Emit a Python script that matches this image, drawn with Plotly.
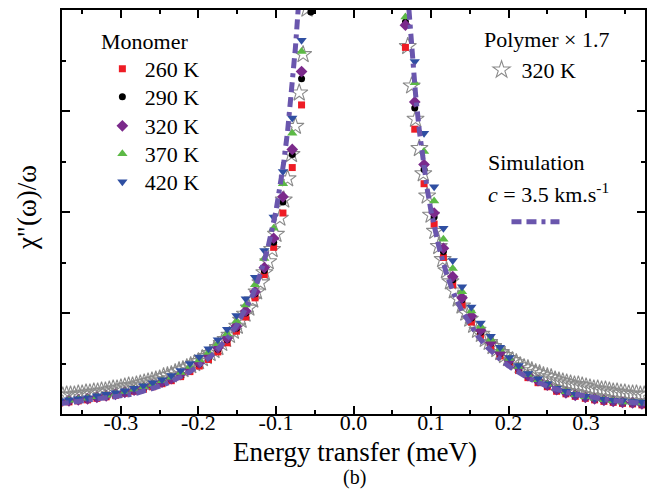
import plotly.graph_objects as go

# ---------------- data ----------------
E_MONO = [-0.379, -0.367, -0.355, -0.343, -0.331, -0.319, -0.307, -0.295, -0.283, -0.271,
          -0.259, -0.247, -0.235, -0.223, -0.211, -0.199, -0.187, -0.175, -0.163, -0.151,
          -0.139, -0.127, -0.115, -0.103, -0.091, -0.079, -0.067, -0.055,
          0.067, 0.079, 0.091, 0.104, 0.116, 0.128, 0.140, 0.152, 0.164, 0.177,
          0.189, 0.201, 0.213, 0.225, 0.238, 0.250, 0.262, 0.274, 0.286, 0.299,
          0.311, 0.323, 0.335, 0.347, 0.360, 0.372, 0.384]

Y_260 = [0.11, 0.12, 0.13, 0.14, 0.155, 0.17, 0.185, 0.205, 0.225, 0.245,
         0.27, 0.30, 0.33, 0.37, 0.42, 0.475, 0.54, 0.615, 0.705, 0.82,
         0.96, 1.15, 1.38, 1.65, 1.99, 2.44, 3.06, 4.1,
         3.63, 2.82, 2.28, 1.88, 1.55, 1.28, 1.08, 0.91, 0.78, 0.67,
         0.575, 0.50, 0.43, 0.36, 0.31, 0.27, 0.225, 0.20, 0.175, 0.155,
         0.14, 0.125, 0.115, 0.105, 0.10, 0.09, 0.085]

Y_290 = [0.115, 0.125, 0.135, 0.145, 0.16, 0.175, 0.19, 0.21, 0.23, 0.255,
         0.28, 0.31, 0.345, 0.385, 0.435, 0.495, 0.565, 0.64, 0.735, 0.85,
         1.0, 1.19, 1.42, 1.70, 2.10, 2.57, 3.32, 3.98,
         3.88, 3.03, 2.42, 1.95, 1.61, 1.33, 1.13, 0.95, 0.81, 0.70,
         0.60, 0.52, 0.45, 0.375, 0.325, 0.28, 0.235, 0.205, 0.18, 0.16,
         0.145, 0.13, 0.12, 0.11, 0.105, 0.095, 0.09]

Y_320 = [0.12, 0.13, 0.14, 0.15, 0.165, 0.18, 0.195, 0.215, 0.235, 0.26,
         0.285, 0.315, 0.35, 0.395, 0.445, 0.505, 0.575, 0.655, 0.75, 0.87,
         1.02, 1.21, 1.45, 1.74, 2.15, 2.62, 3.39, 4.30,
         3.85, 3.09, 2.47, 1.99, 1.64, 1.36, 1.15, 0.97, 0.83, 0.71,
         0.61, 0.53, 0.46, 0.38, 0.33, 0.285, 0.24, 0.21, 0.185, 0.165,
         0.15, 0.135, 0.125, 0.115, 0.11, 0.10, 0.095]

Y_370 = [0.125, 0.135, 0.145, 0.155, 0.17, 0.185, 0.20, 0.22, 0.245, 0.27,
         0.295, 0.33, 0.365, 0.41, 0.47, 0.535, 0.61, 0.695, 0.795, 0.92,
         1.08, 1.28, 1.54, 1.84, 2.28, 2.78, 3.59, 4.5,
         3.93, 3.28, 2.60, 2.11, 1.73, 1.44, 1.21, 1.02, 0.87, 0.74,
         0.64, 0.55, 0.47, 0.39, 0.34, 0.295, 0.25, 0.22, 0.19, 0.17,
         0.155, 0.14, 0.13, 0.12, 0.115, 0.11, 0.105]

Y_420 = [0.13, 0.14, 0.15, 0.16, 0.18, 0.195, 0.21, 0.23, 0.255, 0.28,
         0.31, 0.34, 0.38, 0.43, 0.50, 0.565, 0.645, 0.735, 0.84, 0.975,
         1.14, 1.355, 1.62, 1.95, 2.40, 2.93, 3.70, 4.6,
         4.3, 3.49, 2.78, 2.25, 1.84, 1.52, 1.26, 1.06, 0.90, 0.77,
         0.66, 0.56, 0.48, 0.40, 0.35, 0.30, 0.255, 0.225, 0.195, 0.175,
         0.155, 0.145, 0.135, 0.13, 0.125, 0.12, 0.115]

E_POLY = [-0.375, -0.370, -0.365, -0.360, -0.355, -0.350, -0.345, -0.340, -0.335, -0.330,
          -0.325, -0.320, -0.315, -0.310, -0.305, -0.300, -0.295, -0.290, -0.285, -0.280,
          -0.275, -0.270, -0.265, -0.260, -0.255, -0.250, -0.245, -0.240, -0.235, -0.230,
          -0.225, -0.220, -0.215, -0.210, -0.205, -0.200, -0.195, -0.190, -0.185, -0.180,
          -0.175, -0.170, -0.165, -0.160, -0.155, -0.150, -0.145, -0.140, -0.135, -0.130,
          -0.125, -0.120, -0.115, -0.110, -0.105, -0.100, -0.095, -0.090, -0.085, -0.080,
          -0.075, -0.070, -0.065, -0.060,
          0.070, 0.075, 0.080, 0.085, 0.090, 0.095, 0.100, 0.105, 0.110, 0.115,
          0.120, 0.125, 0.130, 0.135, 0.140, 0.145, 0.150, 0.155, 0.160, 0.165,
          0.170, 0.175, 0.180, 0.185, 0.190, 0.195, 0.200, 0.205, 0.210, 0.215,
          0.220, 0.225, 0.230, 0.235, 0.240, 0.245, 0.250, 0.255, 0.260, 0.265,
          0.270, 0.275, 0.280, 0.285, 0.290, 0.295, 0.300, 0.305, 0.310, 0.315,
          0.320, 0.325, 0.330, 0.335, 0.340, 0.345, 0.350, 0.355, 0.360, 0.365,
          0.370, 0.375]

Y_POLY = [0.18, 0.19, 0.19, 0.19, 0.20, 0.20, 0.21, 0.21, 0.22, 0.22,
          0.23, 0.23, 0.24, 0.25, 0.25, 0.26, 0.27, 0.28, 0.28, 0.29,
          0.30, 0.31, 0.32, 0.33, 0.34, 0.35, 0.37, 0.38, 0.39, 0.41,
          0.43, 0.44, 0.46, 0.48, 0.50, 0.52, 0.55, 0.57, 0.60, 0.63,
          0.66, 0.70, 0.74, 0.78, 0.82, 0.87, 0.93, 0.99, 1.05, 1.13,
          1.21, 1.30, 1.40, 1.51, 1.63, 1.78, 1.94, 2.12, 2.33, 2.57,
          2.85, 3.18, 3.56, 4.01,
          3.64, 3.25, 2.92, 2.63, 2.38, 2.16, 1.97, 1.81, 1.66, 1.53,
          1.42, 1.31, 1.22, 1.14, 1.07, 1.00, 0.94, 0.88, 0.83, 0.79,
          0.74, 0.71, 0.67, 0.64, 0.61, 0.58, 0.55, 0.53, 0.51, 0.48,
          0.46, 0.45, 0.43, 0.41, 0.40, 0.38, 0.37, 0.36, 0.34, 0.33,
          0.32, 0.31, 0.30, 0.29, 0.29, 0.28, 0.27, 0.26, 0.25, 0.25,
          0.24, 0.24, 0.23, 0.22, 0.22, 0.21, 0.21, 0.20, 0.20, 0.20,
          0.19, 0.19]

E_SIM_LEFT = [-0.380, -0.370, -0.360, -0.350, -0.340, -0.330, -0.320, -0.310, -0.300, -0.290,
              -0.280, -0.270, -0.260, -0.250, -0.240, -0.230, -0.220, -0.210, -0.200, -0.190,
              -0.180, -0.170, -0.160, -0.150, -0.140, -0.130, -0.120, -0.110, -0.100, -0.095,
              -0.090, -0.085, -0.080, -0.075, -0.070]
Y_SIM_LEFT = [0.10, 0.11, 0.115, 0.12, 0.13, 0.14, 0.15, 0.16, 0.175, 0.19,
              0.205, 0.225, 0.25, 0.275, 0.305, 0.34, 0.38, 0.425, 0.475, 0.535,
              0.60, 0.68, 0.775, 0.885, 1.02, 1.18, 1.39, 1.66, 2.01, 2.23,
              2.49, 2.80, 3.17, 3.62, 4.15]
E_SIM_RIGHT = [0.070, 0.075, 0.080, 0.085, 0.090, 0.095, 0.100, 0.110, 0.120, 0.130,
               0.140, 0.150, 0.160, 0.170, 0.180, 0.190, 0.200, 0.210, 0.220, 0.230,
               0.240, 0.250, 0.260, 0.270, 0.280, 0.290, 0.300, 0.310, 0.320, 0.330,
               0.340, 0.350, 0.360, 0.370, 0.380]
Y_SIM_RIGHT = [4.15, 3.62, 3.17, 2.80, 2.49, 2.23, 2.01, 1.66, 1.39, 1.18,
               1.02, 0.885, 0.775, 0.68, 0.60, 0.535, 0.475, 0.425, 0.38, 0.34,
               0.305, 0.275, 0.25, 0.225, 0.205, 0.19, 0.175, 0.16, 0.15, 0.14,
               0.13, 0.12, 0.115, 0.11, 0.10]

X_TICKS = [-0.3, -0.2, -0.1, 0.0, 0.1, 0.2, 0.3]
X_TICK_LABELS = ["-0.3", "-0.2", "-0.1", "0.0", "0.1", "0.2", "0.3"]
X_MINOR = [-0.35, -0.25, -0.15, -0.05, 0.05, 0.15, 0.25, 0.35]
Y_TICKS = [0, 1, 2, 3, 4]
Y_MINOR = [0.5, 1.5, 2.5, 3.5]

MONO_NAMES = ["260 K", "290 K", "320 K", "370 K", "420 K"]

# ---------------- layout helpers ----------------
W, H = 648, 489
ML, MR, MT, MB = 62, 1, 10, 75
PW, PH = W - ML - MR, H - MT - MB
FONT = "Liberation Serif"


def px(xp):
    return (xp - ML) / PW


def py(yp):
    return (H - MB - yp) / PH


fig = go.Figure()

# polymer stars (behind)
fig.add_trace(go.Scatter(
    x=E_POLY, y=Y_POLY, mode="markers", name="320 K", legend="legend6",
    marker=dict(symbol="star-open", size=13, color="#8a8a8a", line=dict(width=1.1, color="#8a8a8a")),
))

styles = [
    dict(symbol="square", size=7, color="#ee1c25"),
    dict(symbol="circle", size=7, color="#000000"),
    dict(symbol="diamond", size=9, color="#7b2a8b"),
    dict(symbol="triangle-up", size=9, color="#5cb946"),
    dict(symbol="triangle-down", size=9, color="#2f4fa2"),
]
series = [Y_260, Y_290, Y_320, Y_370, Y_420]
legs = ["legend", "legend2", "legend3", "legend4", "legend5"]
for nm, ys, st, lg in zip(MONO_NAMES, series, styles, legs):
    fig.add_trace(go.Scatter(
        x=E_MONO, y=ys, mode="markers", name=nm, legend=lg,
        marker=dict(symbol=st["symbol"], size=st["size"], color=st["color"], line=dict(width=0)),
    ))

SIM_COLOR = "#6a56ad"
SIM_DASH = "10px,5px,10px,5px,4px,5px"
fig.add_trace(go.Scatter(
    x=E_SIM_LEFT, y=Y_SIM_LEFT, mode="lines", name=" ", legend="legend7",
    line=dict(color=SIM_COLOR, width=5, dash=SIM_DASH),
))
fig.add_trace(go.Scatter(
    x=E_SIM_RIGHT, y=Y_SIM_RIGHT, mode="lines", showlegend=False,
    line=dict(color=SIM_COLOR, width=5, dash=SIM_DASH),
))

axis_common = dict(
    showline=True, linecolor="black", linewidth=2, mirror="allticks",
    ticks="inside", ticklen=8, tickwidth=2, tickcolor="black",
    showgrid=False, zeroline=False,
)

fig.update_xaxes(
    range=[-0.376, 0.376], tickmode="array", tickvals=X_TICKS, ticktext=X_TICK_LABELS,
    tickfont=dict(family=FONT, size=22, color="black"),
    minor=dict(tickmode="array", tickvals=X_MINOR, ticks="inside", ticklen=4, tickwidth=2, tickcolor="black"),
    **axis_common,
)
try:
    fig.update_xaxes(ticklabelstandoff=-12)
except Exception:
    pass
fig.update_yaxes(
    range=[0, 4], tickmode="array", tickvals=Y_TICKS, showticklabels=False,
    minor=dict(tickmode="array", tickvals=Y_MINOR, ticks="inside", ticklen=4, tickwidth=2, tickcolor="black"),
    **axis_common,
)

leg_common = dict(
    bgcolor="rgba(0,0,0,0)", borderwidth=0, xanchor="left", yanchor="middle",
    font=dict(family=FONT, size=22, color="black"), itemwidth=35,
    orientation="v",
)
mono_y = [69, 97, 126, 154, 182]
layout_legs = {}
for lg, yy in zip(legs, mono_y):
    layout_legs[lg] = dict(x=px(100), y=py(yy), **leg_common)
layout_legs["legend6"] = dict(x=px(483), y=py(70), **{**leg_common, "itemwidth": 30})
layout_legs["legend7"] = dict(x=px(508), y=py(222), **{**leg_common, "itemwidth": 48})

annotations = [
    dict(text="Monomer", x=px(99), y=py(41.6), xanchor="left", yanchor="middle"),
    dict(text="Polymer \u00d7 1.7", x=px(483), y=py(39.6), xanchor="left", yanchor="middle"),
    dict(text="Simulation", x=px(487), y=py(162.6), xanchor="left", yanchor="middle"),
    dict(text="<i>c</i> = 3.5 km.s<sup>-1</sup>", x=px(487), y=py(192.6), xanchor="left", yanchor="middle"),
    dict(text="Energy transfer (meV)", x=px(356), y=py(452), xanchor="center", yanchor="middle",
         font=dict(family=FONT, size=27, color="black")),
    dict(text="(b)", x=px(356), y=py(478), xanchor="center", yanchor="middle",
         font=dict(family=FONT, size=20, color="black")),
    dict(text='\u03c7"(\u03c9)/\u03c9', x=px(27), y=py(208), xanchor="center", yanchor="middle",
         textangle=-90, font=dict(family=FONT, size=27, color="black")),
]
for a in annotations:
    a.setdefault("font", dict(family=FONT, size=22, color="black"))
    a.update(xref="paper", yref="paper", showarrow=False)

fig.update_layout(
    width=W, height=H,
    margin=dict(l=ML, r=MR, t=MT, b=MB, pad=0),
    paper_bgcolor="white", plot_bgcolor="white",
    font=dict(family=FONT, size=22, color="black"),
    annotations=annotations,
    **layout_legs,
)

fig.write_html(
    "out.html",
    config={"displayModeBar": False},
    post_script="document.body.style.margin='0';document.body.style.overflow='hidden';",
)
